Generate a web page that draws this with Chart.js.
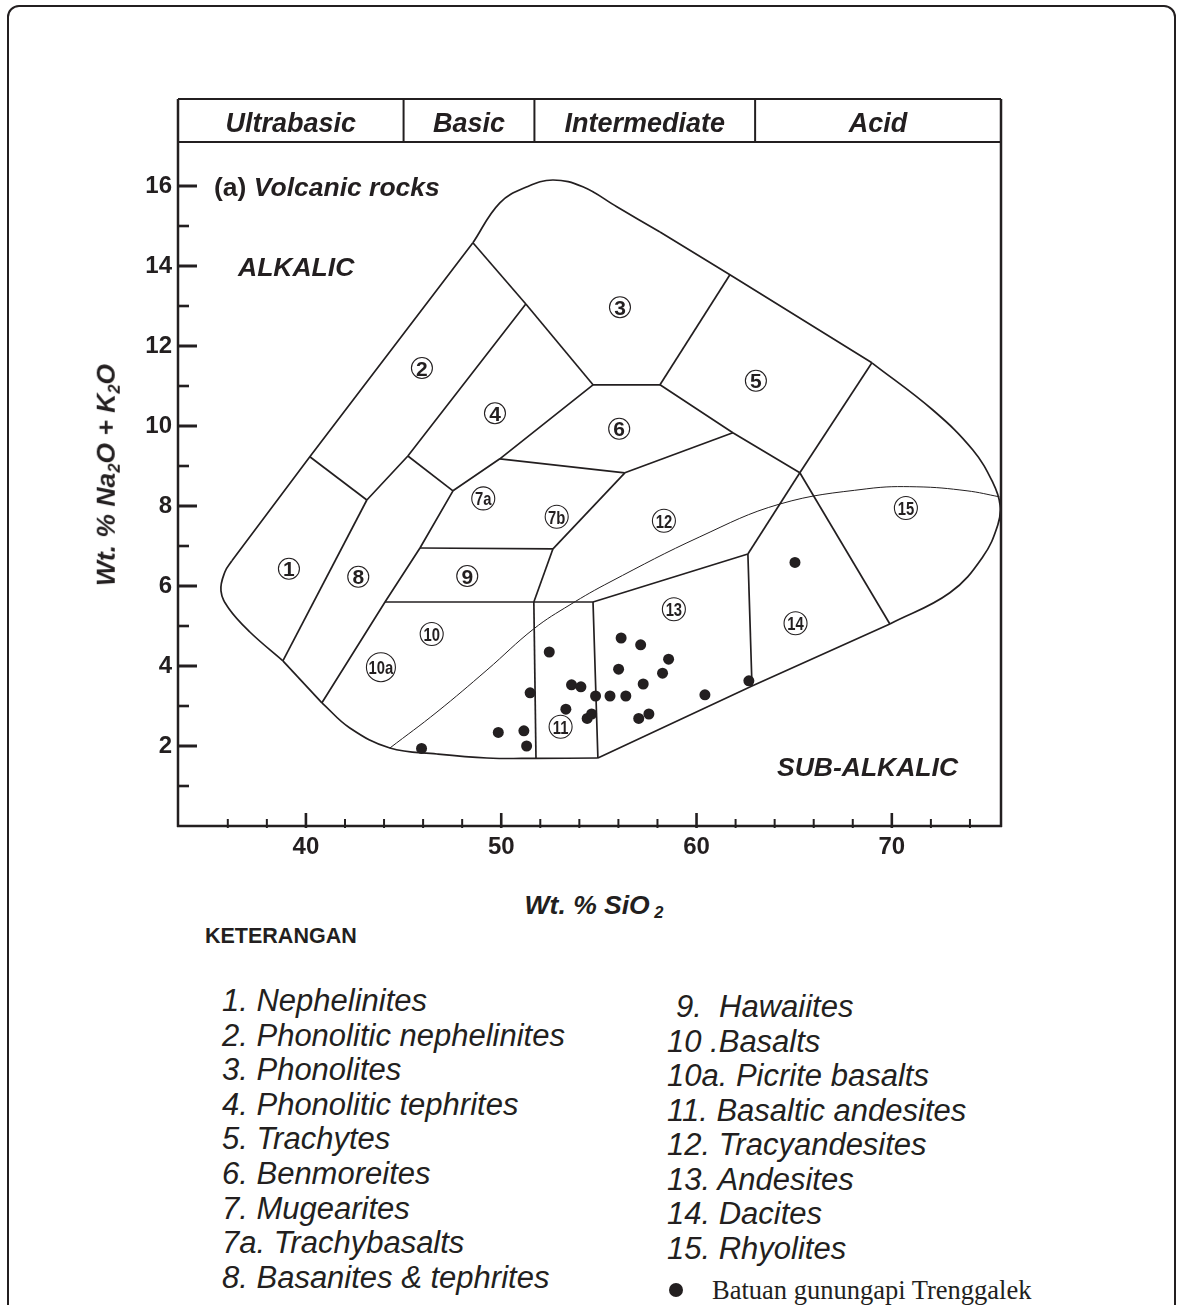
<!DOCTYPE html>
<html>
<head>
<meta charset="utf-8">
<title>TAS diagram - Batuan gunungapi Trenggalek</title>
<script src="https://cdn.jsdelivr.net/npm/chart.js@4.4.1/dist/chart.umd.min.js"></script>
<style>
  body { margin: 0; background: #fff; }
  #page { position: relative; width: 1184px; height: 1305px; overflow: hidden;
          font-family: 'Liberation Sans', Arial, sans-serif; color: #231f20; }
  #frame { position: absolute; left: 7px; top: 5px; width: 1165px; height: 1360px;
           border: 2.5px solid #231f20; border-radius: 12px; }
  #chart { position: absolute; left: 0; top: 0; }
  .t { position: absolute; white-space: pre; line-height: 1; transform: translateY(-50%); }
  .bi { font-weight: bold; font-style: italic; font-size: 26.5px; }
  .t sub { font-size: 0.62em; vertical-align: -0.28em; line-height: 0; }
  .leg { font-style: italic; font-size: 31px; }
</style>
</head>
<body>
<div id="page">
  <div id="frame"></div>
  <canvas id="chart" width="1184" height="880"></canvas>

  <div class="t bi" style="left:214px;top:187px"><span style="font-style:normal">(a)</span> Volcanic rocks</div>
  <div class="t bi" style="left:238px;top:267px">ALKALIC</div>
  <div class="t bi" style="left:777px;top:767px">SUB-ALKALIC</div>
  <div class="t bi" style="left:106px;top:475px;transform:translate(-50%,-50%) rotate(-90deg)">Wt. % Na<sub>2</sub>O + K<sub>2</sub>O</div>
  <div class="t bi" style="left:594px;top:905px;transform:translate(-50%,-50%)">Wt. % SiO<sub> 2</sub></div>
  <div class="t" style="left:205px;top:937px;font-weight:bold;font-size:21.5px">KETERANGAN</div>
  <div id="legend"></div>
  <div style="position:absolute;left:669px;top:1283px;width:14px;height:14px;border-radius:50%;background:#231f20"></div>
  <div class="t" style="left:712px;top:1290px;font-family:'Liberation Serif','Times New Roman',serif;font-size:26.5px">Batuan gunungapi Trenggalek</div>
</div>

<script>
const INK = '#231f20';

// sample analyses: SiO2 and Na2O + K2O, wt.%
const sio2   = [45.92, 49.85, 51.16, 51.30, 51.48, 52.46, 53.31, 53.60, 54.08, 54.40, 54.63, 54.83, 55.57,
                56.14, 56.01, 56.38, 57.14, 57.27, 57.04, 57.56, 58.57, 58.26, 60.43, 62.68, 65.04];
const alkali = [1.94, 2.34, 2.38, 2.00, 3.33, 4.35, 2.92, 3.53, 3.48, 2.69, 2.80, 3.25, 3.25,
                4.70, 3.92, 3.25, 4.53, 3.55, 2.69, 2.80, 4.17, 3.82, 3.28, 3.63, 6.59];

// axes
const xTicks = [36, 38, 40, 42, 44, 46, 48, 50, 52, 54, 56, 58, 60, 62, 64, 66, 68, 70, 72, 74];
const xLabels = [40, 50, 60, 70];
const yTicks = [1, 2, 3, 4, 5, 6, 7, 8, 9, 10, 11, 12, 13, 14, 15, 16];
const yLabels = [2, 4, 6, 8, 10, 12, 14, 16];

// silica classes shown in the top band
const classNames = ['Ultrabasic', 'Basic', 'Intermediate', 'Acid'];
const classBounds = [45, 51.7, 63];

// outer envelope, curved parts
const envCorner = [[38.82, 4.13], [37.13, 4.85], [36.06, 5.43], [35.65, 5.88], [35.85, 6.35], [36.21, 6.63]];
const envTop = [[48.55, 14.58], [49.93, 15.58], [51.32, 15.98], [52.65, 16.15], [54.18, 15.98], [55.92, 15.48], [58.13, 14.85]];
const envRight = [[68.98, 11.58], [72.10, 10.40], [74.15, 9.40], [75.18, 8.58], [75.54, 8.03], [75.43, 7.53],
                  [74.66, 6.73], [72.97, 5.83], [69.90, 5.05]];
const envBottom = [[40.82, 3.08], [42.25, 2.45], [44.30, 1.95], [46.71, 1.80], [49.27, 1.70], [51.78, 1.69], [54.95, 1.70]];

// alkalic / sub-alkalic divide
const alkalicLine = [[44.30, 1.95], [46.71, 2.85], [49.27, 3.90], [51.67, 4.93], [53.52, 5.53], [55.57, 6.10],
                     [60.17, 7.23], [64.27, 8.05], [68.72, 8.43], [71.28, 8.48], [73.85, 8.38], [75.51, 8.23]];

// straight field boundaries
const fieldLines = [
  [[36.21, 6.63], [40.20, 9.23], [48.55, 14.58]],
  [[58.13, 14.85], [61.71, 13.78], [68.98, 11.58]],
  [[69.90, 5.05], [62.84, 3.50], [54.95, 1.70]],
  [[38.82, 4.13], [40.82, 3.08]],
  [[40.20, 9.23], [43.12, 8.15]],
  [[43.12, 8.15], [38.82, 4.13]],
  [[43.12, 8.15], [45.22, 9.25], [51.26, 13.05]],
  [[48.55, 14.58], [51.26, 13.05]],
  [[51.26, 13.05], [54.70, 11.03]],
  [[54.70, 11.03], [58.13, 11.03]],
  [[58.13, 11.03], [61.71, 13.78]],
  [[45.22, 9.25], [47.53, 8.38]],
  [[47.53, 8.38], [45.84, 6.95], [44.05, 5.60], [40.82, 3.08]],
  [[47.53, 8.38], [49.93, 9.18], [54.70, 11.03]],
  [[49.93, 9.18], [56.33, 8.83]],
  [[56.33, 8.83], [61.86, 9.83]],
  [[58.13, 11.03], [61.86, 9.83], [65.29, 8.83]],
  [[65.29, 8.83], [68.98, 11.58]],
  [[65.29, 8.83], [69.90, 5.05]],
  [[65.29, 8.83], [62.63, 6.80]],
  [[62.63, 6.80], [62.84, 3.50]],
  [[62.63, 6.80], [54.70, 5.60]],
  [[56.33, 8.83], [52.65, 6.93]],
  [[45.84, 6.95], [52.65, 6.93]],
  [[52.65, 6.93], [51.67, 5.60]],
  [[44.05, 5.60], [54.70, 5.60]],
  [[51.67, 5.60], [51.78, 1.69]],
  [[54.70, 5.60], [54.95, 1.70]]
];

// field numbers
const fieldNames = ['1', '2', '3', '4', '5', '6', '7a', '7b', '8', '9', '10', '10a', '11', '12', '13', '14', '15'];
const fieldX = [39.13, 45.94, 56.08, 49.68, 63.04, 56.04, 49.08, 52.84, 42.68, 48.26, 46.44, 43.84, 53.04, 58.33, 58.84, 65.07, 70.72];
const fieldY = [6.43, 11.45, 12.97, 10.32, 11.13, 9.93, 8.19, 7.73, 6.23, 6.25, 4.80, 3.97, 2.48, 7.63, 5.42, 5.07, 7.95];

const legendLeft = ['1. Nephelinites', '2. Phonolitic nephelinites', '3. Phonolites', '4. Phonolitic tephrites',
                    '5. Trachytes', '6. Benmoreites', '7. Mugearites', '7a. Trachybasalts', '8. Basanites & tephrites'];
const legendRight = ['9.  Hawaiites', '10 .Basalts', '10a. Picrite basalts', '11. Basaltic andesites',
                     '12. Tracyandesites', '13. Andesites', '14. Dacites', '15. Rhyolites'];

// legend text
const legend = document.getElementById('legend');
legendLeft.forEach((s, i) => {
  const d = document.createElement('div');
  d.className = 't leg';
  d.style.left = '222px';
  d.style.top = (1000 + i * 34.6) + 'px';
  d.textContent = s;
  legend.appendChild(d);
});
legendRight.forEach((s, i) => {
  const d = document.createElement('div');
  d.className = 't leg';
  d.style.left = (i === 0 ? 676 : 667) + 'px';
  d.style.top = (1006 + i * 34.5) + 'px';
  d.textContent = s;
  legend.appendChild(d);
});

Chart.defaults.font.family = "'Liberation Sans', Arial, sans-serif";
Chart.defaults.color = INK;

const toXY = pts => pts.map(p => ({x: p[0], y: p[1]}));
const boundary = (pts, width, tension) => ({
  data: toXY(pts),
  showLine: true,
  borderColor: INK,
  borderWidth: width,
  tension: tension,
  pointRadius: 0,
  pointHoverRadius: 0,
  fill: false
});

const datasets = [
  boundary(envCorner, 1.7, 0.4),
  boundary(envTop, 1.7, 0.4),
  boundary(envRight, 1.7, 0.4),
  boundary(envBottom, 1.7, 0.4),
  boundary(alkalicLine, 1, 0.4)
];
fieldLines.forEach(l => datasets.push(boundary(l, 1.7, 0)));
datasets.push({
  label: 'Batuan gunungapi Trenggalek',
  data: sio2.map((v, i) => ({x: v, y: alkali[i]})),
  pointRadius: 5.5,
  pointBackgroundColor: INK,
  pointBorderWidth: 0,
  showLine: false
});

function seg(ctx, x1, y1, x2, y2) {
  ctx.beginPath();
  ctx.moveTo(x1, y1);
  ctx.lineTo(x2, y2);
  ctx.stroke();
}

const tasDecor = {
  id: 'tasDecor',
  afterDatasetsDraw(chart) {
    const {ctx, scales: {x, y}} = chart;
    ctx.save();
    fieldNames.forEach((name, i) => {
      const px = x.getPixelForValue(fieldX[i]);
      const py = y.getPixelForValue(fieldY[i]);
      const r = name === '10a' ? 14.5 : (name.length > 1 ? 11.5 : 10.5);
      ctx.beginPath();
      ctx.arc(px, py, r, 0, Math.PI * 2);
      ctx.fillStyle = '#fff';
      ctx.fill();
      ctx.lineWidth = 1.1;
      ctx.strokeStyle = INK;
      ctx.stroke();
      const size = name.length > 1 ? 19 : 21;
      ctx.font = 'bold ' + size + 'px "Liberation Sans", Arial, sans-serif';
      ctx.fillStyle = INK;
      ctx.textAlign = 'center';
      ctx.textBaseline = 'alphabetic';
      ctx.save();
      ctx.translate(px, py + size * 0.36);
      ctx.scale(name.length > 1 ? 0.78 : 1, 1);
      ctx.fillText(name, 0, 0);
      ctx.restore();
    });
    ctx.restore();
  },
  afterDraw(chart) {
    const {ctx, chartArea: a, scales: {x, y}} = chart;
    const headTop = 99;
    ctx.save();
    ctx.strokeStyle = INK;
    ctx.lineCap = 'butt';

    // frame and silica band
    ctx.lineWidth = 2.5;
    seg(ctx, a.left, headTop, a.left, a.bottom + 1);
    seg(ctx, a.left - 1, a.bottom, a.right + 1, a.bottom);
    seg(ctx, a.right, headTop, a.right, a.bottom + 1);
    ctx.lineWidth = 2;
    seg(ctx, a.left, headTop, a.right, headTop);
    seg(ctx, a.left, a.top, a.right, a.top);
    classBounds.forEach(b => {
      const px = x.getPixelForValue(b);
      seg(ctx, px, headTop, px, a.top);
    });
    const edges = [x.min].concat(classBounds, [x.max]);
    ctx.fillStyle = INK;
    ctx.font = 'italic bold 27px "Liberation Sans", Arial, sans-serif';
    ctx.textAlign = 'center';
    ctx.textBaseline = 'alphabetic';
    classNames.forEach((n, i) => {
      const cx = (x.getPixelForValue(edges[i]) + x.getPixelForValue(edges[i + 1])) / 2;
      ctx.fillText(n, cx, 132);
    });

    // tick marks, drawn inwards
    x.ticks.forEach(t => {
      const px = x.getPixelForValue(t.value);
      const major = xLabels.includes(t.value);
      ctx.lineWidth = major ? 2.6 : 2;
      seg(ctx, px, a.bottom + 2, px, a.bottom - (major ? 13 : 7));
    });
    y.ticks.forEach(t => {
      const py = y.getPixelForValue(t.value);
      const major = yLabels.includes(t.value);
      ctx.lineWidth = major ? 3 : 2.6;
      seg(ctx, a.left, py, a.left + (major ? 19 : 11), py);
    });
    ctx.restore();
  }
};

new Chart(document.getElementById('chart'), {
  type: 'scatter',
  data: {datasets: datasets},
  plugins: [tasDecor],
  options: {
    responsive: false,
    animation: false,
    events: [],
    layout: {padding: {top: 142, right: 183, left: 0, bottom: 0}},
    plugins: {legend: {display: false}, tooltip: {enabled: false}},
    scales: {
      x: {
        type: 'linear',
        min: 33.45,
        max: 75.59,
        afterBuildTicks: s => { s.ticks = xTicks.map(v => ({value: v})); },
        afterFit: s => { s.height = 54; },
        grid: {display: false, drawTicks: false},
        border: {display: false},
        ticks: {
          autoSkip: false,
          maxRotation: 0,
          padding: 7,
          font: {size: 24, weight: 'bold'},
          callback: v => xLabels.includes(v) ? String(v) : ''
        }
      },
      y: {
        type: 'linear',
        min: 0,
        max: 17.1,
        afterBuildTicks: s => { s.ticks = yTicks.map(v => ({value: v})); },
        afterFit: s => { s.width = 178; },
        grid: {display: false, drawTicks: false},
        border: {display: false},
        ticks: {
          autoSkip: false,
          padding: 6,
          font: {size: 24, weight: 'bold'},
          callback: v => yLabels.includes(v) ? String(v) : ''
        }
      }
    }
  }
});
</script>
</body>
</html>
